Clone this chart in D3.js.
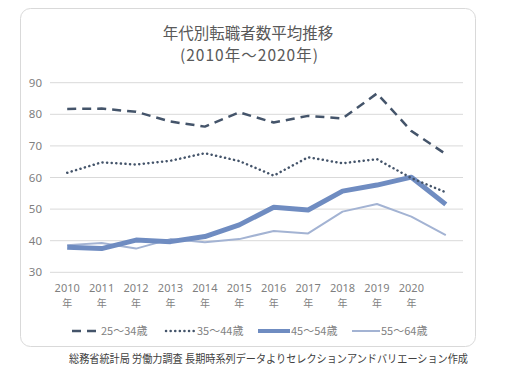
<!DOCTYPE html>
<html><head><meta charset="utf-8">
<script src="https://cdn.jsdelivr.net/npm/d3@7"></script>
<style>body{margin:0;background:#fff;} text{font-family:"Noto Sans CJK JP","Noto Sans",sans-serif;}</style>
</head><body>
<svg id="c" width="518" height="373"></svg>
<script>
const categories = ["2010","2011","2012","2013","2014","2015","2016","2017","2018","2019","2020",""];
const s25_34 = [81.7,81.8,80.8,77.7,76.1,80.6,77.4,79.5,78.7,86.6,74.7,67.4];
const s35_44 = [61.5,64.8,64.1,65.3,67.7,65.2,60.6,66.4,64.5,65.8,59.8,55.3];
const s45_54 = [37.9,37.5,40.2,39.7,41.3,45.0,50.6,49.7,55.7,57.6,60.1,51.5];
const s55_64 = [38.6,39.3,37.5,40.5,39.5,40.5,43.1,42.3,49.2,51.6,47.6,41.8];
const seriesNames = ["25～34歳","35～44歳","45～54歳","55～64歳"];
const yTicks = [30,40,50,60,70,80,90];
const title1 = "年代別転職者数平均推移";
const title2 = "(2010年～2020年)";
const footer = "総務省統計局 労働力調査 長期時系列データよりセレクションアンドバリエーション作成";

const svg = d3.select("#c");
svg.append("rect").attr("x",20.5).attr("y",8.5).attr("width",455).attr("height",338)
  .attr("rx",10).attr("fill","#fff").attr("stroke","#d9d9d9");

const x = d3.scaleBand().domain(categories.map((d,i)=>i)).range([50,463]);
const y = d3.scaleLinear().domain([30,90]).range([272.3,82.7]);

// grid
svg.append("g").selectAll("line").data(yTicks).join("line")
  .attr("x1",50).attr("x2",463).attr("y1",d=>y(d)).attr("y2",d=>y(d))
  .attr("stroke","#d9d9d9").attr("stroke-width",1);
// y labels
const yAxis = d3.axisLeft(y).tickValues(yTicks).tickSize(0).tickPadding(8);
const gy = svg.append("g").attr("transform","translate(50,0)").call(yAxis);
gy.select(".domain").remove();
gy.selectAll("text").attr("font-size",11.5).attr("fill","#7f7f7f").style("font-family","'Noto Sans',sans-serif");

// x labels
const gx = svg.append("g");
categories.forEach((c,i)=>{
  if(!c) return;
  const cx = x(i)+x.bandwidth()/2;
  gx.append("text").attr("x",cx).attr("y",292).attr("text-anchor","middle")
    .attr("font-size",11).attr("fill","#7f7f7f").style("font-family","'Noto Sans',sans-serif").text(c);
  gx.append("text").attr("x",cx).attr("y",307).attr("text-anchor","middle")
    .attr("font-size",10).attr("fill","#7f7f7f").text("年");
});

const styles = [
  {data:s25_34,color:"#44546a",w:2.5,dash:"9,6",cap:"butt"},
  {data:s35_44,color:"#44546a",w:2.5,dash:"0.1,4.5",cap:"round"},
  {data:s45_54,color:"#6f8cc1",w:5,dash:null,cap:"butt"},
  {data:s55_64,color:"#a3b3d3",w:2,dash:null,cap:"butt"}
];
const line = d3.line().x((d,i)=>x(i)+x.bandwidth()/2).y(d=>y(d));
[3,2,1,0].forEach(k=>{
  const s = styles[k];
  svg.append("path").datum(s.data).attr("d",line).attr("fill","none")
    .attr("stroke",s.color).attr("stroke-width",s.w).attr("stroke-linejoin","round")
    .attr("stroke-linecap",s.cap).attr("stroke-dasharray",s.dash);
});

// legend
const legX = [72,166,258,352];
const legLen = [28,30,32,28];
seriesNames.forEach((n,k)=>{
  const s = styles[k];
  svg.append("line").attr("x1",legX[k]).attr("x2",legX[k]+legLen[k]).attr("y1",331).attr("y2",331)
    .attr("stroke",s.color).attr("stroke-width",s.w===5?4:s.w).attr("stroke-dasharray",s.dash)
    .attr("stroke-linecap",s.cap);
  svg.append("text").attr("x",legX[k]+legLen[k]+1).attr("y",335).attr("font-size",11)
    .attr("fill","#7f7f7f").text(n);
});

// titles
svg.append("text").attr("x",248).attr("y",39).attr("text-anchor","middle").attr("font-size",15.5).attr("fill","#595959").text(title1);
svg.append("text").attr("x",180).attr("y",61).attr("font-size",15.5).attr("fill","#595959")
  .attr("textLength",138).attr("lengthAdjust","spacing").text(title2);

// footer
svg.append("text").attr("x",69).attr("y",363).attr("font-size",11).attr("fill","#404040")
  .attr("textLength",399).attr("lengthAdjust","spacingAndGlyphs").text(footer);
</script>
</body></html>
